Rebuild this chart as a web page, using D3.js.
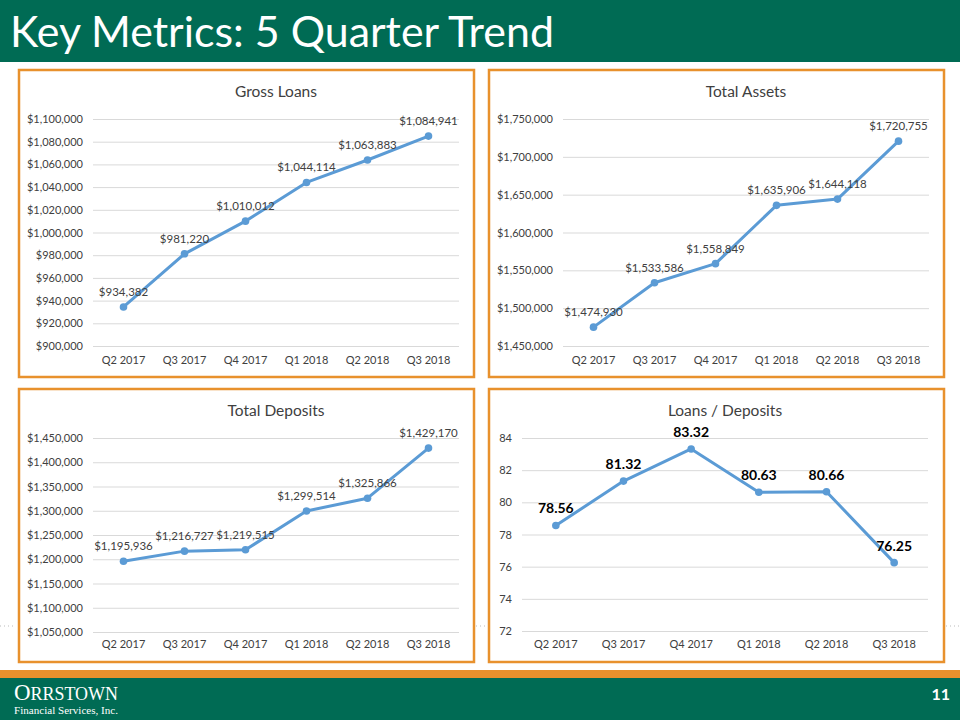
<!DOCTYPE html>
<html><head><meta charset="utf-8">
<script src="https://cdn.jsdelivr.net/npm/d3@7"></script>
<style>body{margin:0;background:#fff}svg{display:block}</style>
</head><body>
<script>
const quarters = ["Q2 2017","Q3 2017","Q4 2017","Q1 2018","Q2 2018","Q3 2018"];
const grossLoans = [934382, 981220, 1010012, 1044114, 1063883, 1084941];
const totalAssets = [1474930, 1533586, 1558849, 1635906, 1644118, 1720755];
const totalDeposits = [1195936, 1216727, 1219515, 1299514, 1325866, 1429170];
const loansToDeposits = [78.56, 81.32, 83.32, 80.63, 80.66, 76.25];
const grossLoansTicks = [900000, 1100000, 20000];
const totalAssetsTicks = [1450000, 1750000, 50000];
const totalDepositsTicks = [1050000, 1450000, 50000];
const ratioTicks = [72, 84, 2];

const W = 960, H = 720;
const green = "#006B54", orange = "#E8912D", blue = "#5B9BD5";
const svg = d3.select("body").append("svg").attr("width", W).attr("height", H);
const font = "Lato, 'Open Sans', sans-serif";

// header
svg.append("rect").attr("x",0).attr("y",0).attr("width",W).attr("height",62).attr("fill",green);
svg.append("text").attr("x",10).attr("y",47).attr("fill","#fff")
  .attr("font-family",font).attr("font-size",43).attr("textLength",544).attr("lengthAdjust","spacingAndGlyphs")
  .text("Key Metrics: 5 Quarter Trend");

// footer
svg.append("rect").attr("x",0).attr("y",670).attr("width",W).attr("height",9).attr("fill",orange);
svg.append("rect").attr("x",0).attr("y",678).attr("width",W).attr("height",42).attr("fill",green);
const logo = svg.append("text").attr("x",14).attr("y",700).attr("fill","#fff").attr("font-family","'Liberation Serif', 'DejaVu Serif', serif")
  .attr("textLength",104).attr("lengthAdjust","spacingAndGlyphs");
logo.append("tspan").attr("font-size",23).text("O");
logo.append("tspan").attr("font-size",18).text("RRSTOWN");
svg.append("text").attr("x",14).attr("y",714).attr("fill","#fff").attr("font-family","'Liberation Serif', serif")
  .attr("font-size",11).attr("textLength",104).attr("lengthAdjust","spacingAndGlyphs").text("Financial Services, Inc.");
svg.append("text").attr("x",950).attr("y",700).attr("text-anchor","end").attr("fill","#fff")
  .attr("font-family",font).attr("font-weight","bold").attr("font-size",16).text("11");

// dotted separators
[[0,15],[476,487],[946,960]].forEach(([a,b])=>{
  svg.append("line").attr("x1",a).attr("x2",b).attr("y1",626).attr("y2",626)
    .attr("stroke","#bbb").attr("stroke-width",1).attr("stroke-dasharray","1,3");
});

const panels = [
  {box:[19,70,455,307], title:"Gross Loans", titleY:97, data:grossLoans, ticks:grossLoansTicks,
   x:[93,459], y:[346,119], xLabY:365, money:true, bold:false},
  {box:[489,70,455,307], title:"Total Assets", titleY:97, data:totalAssets, ticks:totalAssetsTicks,
   x:[563,929], y:[346,119], xLabY:365, money:true, bold:false},
  {box:[19,389,455,273], title:"Total Deposits", titleY:416, data:totalDeposits, ticks:totalDepositsTicks,
   x:[93,459], y:[632,438], xLabY:649, money:true, bold:false},
  {box:[489,389,455,273], title:"Loans / Deposits", titleY:416, data:loansToDeposits, ticks:ratioTicks,
   x:[522,928], y:[631,438], xLabY:649, money:false, bold:true}
];

const money = d3.format("$,");
panels.forEach(p => {
  const g = svg.append("g");
  g.append("rect").attr("x",p.box[0]).attr("y",p.box[1]).attr("width",p.box[2]).attr("height",p.box[3])
    .attr("fill","#fff").attr("stroke",orange).attr("stroke-width",2.5);
  g.append("text").attr("x",(p.x[0]+p.x[1])/2).attr("y",p.titleY).attr("text-anchor","middle")
    .attr("font-family",font).attr("font-size",15.5).attr("fill","#404040").text(p.title);

  const [t0,t1,step] = p.ticks;
  const y = d3.scaleLinear().domain([t0,t1]).range(p.y);
  const x = d3.scaleBand().domain(quarters).range(p.x);
  const tv = d3.range(t0, t1 + step/2, step);

  const yAxis = d3.axisLeft(y).tickValues(tv).tickSize(-(p.x[1]-p.x[0])).tickPadding(10)
    .tickFormat(p.money ? money : d3.format("d"));
  const ya = g.append("g").attr("transform",`translate(${p.x[0]},0)`).call(yAxis);
  ya.select(".domain").remove();
  ya.selectAll("line").attr("stroke","#D9D9D9").attr("stroke-width",1);
  ya.selectAll("text").attr("font-family",font).attr("font-size",11).attr("fill","#404040");

  const xAxis = d3.axisBottom(x).tickSize(0).tickPadding(0);
  const xa = g.append("g").attr("transform",`translate(0,${p.xLabY-9})`).call(xAxis);
  xa.select(".domain").remove();
  xa.selectAll("text").attr("font-family",font).attr("font-size",11).attr("fill","#404040").attr("dy","0.71em");

  const cx = d => x(d[0]) + x.bandwidth()/2;
  const pts = quarters.map((q,i)=>[q,p.data[i]]);
  g.append("path").datum(pts).attr("fill","none").attr("stroke",blue).attr("stroke-width",3)
    .attr("stroke-linejoin","round").attr("d", d3.line().x(cx).y(d=>y(d[1])));
  g.selectAll("circle.pt").data(pts).join("circle").attr("class","pt")
    .attr("cx",cx).attr("cy",d=>y(d[1])).attr("r",3.8).attr("fill",blue);
  g.selectAll("text.lbl").data(pts).join("text").attr("class","lbl")
    .attr("x",cx).attr("y",d=>y(d[1]) - (p.bold?12:11)).attr("text-anchor","middle")
    .attr("font-family",font).attr("font-size",p.bold?14:11.5).attr("font-weight",p.bold?"bold":"normal")
    .attr("fill",p.bold?"#000":"#404040")
    .text(d => p.money ? money(d[1]) : d3.format(".2f")(d[1]));
});
</script>
</body></html>
